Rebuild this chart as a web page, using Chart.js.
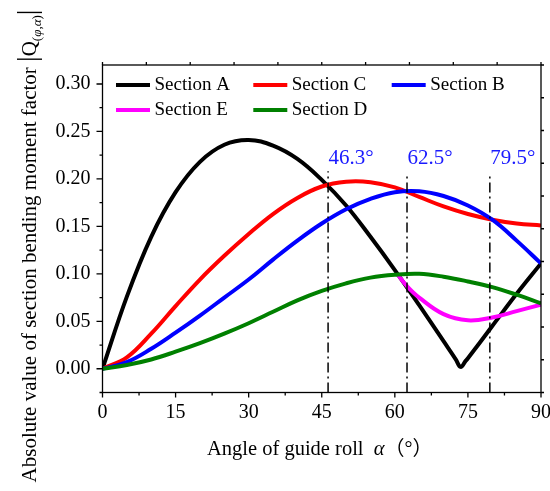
<!DOCTYPE html>
<html>
<head>
<meta charset="utf-8">
<script src="https://cdn.jsdelivr.net/npm/chart.js@4/dist/chart.umd.min.js"></script>
<style>
  html, body { margin: 0; padding: 0; background: #fff; }
  #wrap { width: 550px; height: 491px; position: relative; }
</style>
</head>
<body>
<div id="wrap"><canvas id="c" width="550" height="491"></canvas></div>
<script>
const SERIF = '"Liberation Serif", "Times New Roman", "Noto Sans CJK SC", serif';

// Guide-roll angle (degrees) at which each section curve is sampled
const anglesA = [0, 5, 10, 15, 20, 25, 30, 35, 40, 45, 50, 55, 60, 65, 70, 72.5, 73.5, 74.5, 75, 80, 85, 90];
const anglesBCD = [0, 5, 10, 15, 20, 25, 30, 35, 40, 45, 50, 55, 60, 65, 70, 75, 80, 85, 90];
const anglesE = [60.6, 62.5, 65, 70, 75, 80, 85, 90];

// |Q| for each section
const sectionA = [0, 0.076, 0.139, 0.186, 0.218, 0.236, 0.241, 0.235, 0.221, 0.199, 0.172, 0.139, 0.104, 0.067, 0.029, 0.010, 0.002, 0.008, 0.011, 0.045, 0.079, 0.111];
const sectionC = [0, 0.012, 0.037, 0.066, 0.094, 0.119, 0.142, 0.163, 0.180, 0.192, 0.197, 0.1965, 0.191, 0.181, 0.171, 0.163, 0.157, 0.153, 0.151];
const sectionB = [0, 0.007, 0.021, 0.038, 0.056, 0.075, 0.094, 0.115, 0.135, 0.153, 0.168, 0.179, 0.186, 0.187, 0.182, 0.172, 0.157, 0.135, 0.111];
const sectionE = [0.099, 0.087, 0.075, 0.0575, 0.051, 0.054, 0.0607, 0.0675];
const sectionD = [0, 0.004, 0.0098, 0.018, 0.027, 0.037, 0.048, 0.060, 0.072, 0.082, 0.090, 0.096, 0.099, 0.100, 0.097, 0.092, 0.086, 0.078, 0.069];

// Critical angles marked with dash-dot lines, and the height each line reaches
const markerAngles = [46.3, 62.5, 79.5];
const markerTops = [0.208, 0.203, 0.203];
const markerLabelLevel = 0.216;

// Axis ticks
const xTickValues = [0, 15, 30, 45, 60, 75, 90];
const xMinorValues = [7.5, 22.5, 37.5, 52.5, 67.5, 82.5];
const yTickValues = [0, 0.05, 0.10, 0.15, 0.20, 0.25, 0.30];
const yMinorValues = [-0.025, 0.025, 0.075, 0.125, 0.175, 0.225, 0.275];
const topTickValues = [0, 9, 18, 27, 36, 45, 54, 63, 72, 81, 90];
const rightTickValues = [-0.025, 0.0095, 0.044, 0.0785, 0.113, 0.1475, 0.182, 0.2165, 0.251, 0.2855, 0.32];
const Y_MIN = -0.025, Y_MAX = 0.32;

const pairs = (xs, ys) => xs.map((x, i) => ({ x, y: ys[i] }));

function curve(label, xs, ys, color, order) {
  return {
    label, data: pairs(xs, ys), borderColor: color, backgroundColor: color,
    borderWidth: 4, pointRadius: 0, tension: 0.4,
    borderJoinStyle: 'round', borderCapStyle: 'butt', order, inLegend: true
  };
}

const datasets = [
  curve('Section A', anglesA, sectionA, '#000000', 5),
  curve('Section C', anglesBCD, sectionC, '#ff0000', 4),
  curve('Section B', anglesBCD, sectionB, '#0000ff', 3),
  curve('Section E', anglesE, sectionE, '#ff00ff', 2),
  curve('Section D', anglesBCD, sectionD, '#008000', 1),
];
markerAngles.forEach((a, i) => {
  datasets.push({
    label: '', data: [{ x: a, y: Y_MIN }, { x: a, y: markerTops[i] }],
    borderColor: '#000', borderWidth: 1.5, borderDash: [10, 4, 2, 4],
    pointRadius: 0, tension: 0, order: 0, inLegend: false
  });
});

// Frame with outward ticks on all four sides
const framePlugin = {
  id: 'frame',
  afterDraw(chart) {
    const { ctx, chartArea: a, scales: { x, y } } = chart;
    ctx.save();
    ctx.strokeStyle = '#000';
    ctx.lineWidth = 1.3;
    ctx.strokeRect(a.left, a.top, a.right - a.left, a.bottom - a.top);
    ctx.beginPath();
    const seg = (x1, y1, x2, y2) => { ctx.moveTo(x1, y1); ctx.lineTo(x2, y2); };
    xTickValues.forEach(v => { const p = x.getPixelForValue(v); seg(p, a.bottom, p, a.bottom + 5); });
    xMinorValues.forEach(v => { const p = x.getPixelForValue(v); seg(p, a.bottom, p, a.bottom + 3); });
    yTickValues.forEach(v => { const p = y.getPixelForValue(v); seg(a.left, p, a.left - 6, p); });
    yMinorValues.forEach(v => { const p = y.getPixelForValue(v); seg(a.left, p, a.left - 3, p); });
    topTickValues.forEach(v => { const p = x.getPixelForValue(v); seg(p, a.top, p, a.top - 3); });
    rightTickValues.forEach(v => { const p = y.getPixelForValue(v); seg(a.right, p, a.right + 3, p); });
    ctx.stroke();
    ctx.restore();
  }
};

// Legend laid out in three aligned columns inside the plot
const legendPlugin = {
  id: 'gridLegend',
  afterDraw(chart) {
    const { ctx, chartArea: a } = chart;
    const colX = [13.5, 150.8, 289.2];
    const rowY = [20, 45];
    const items = chart.data.datasets.filter(d => d.inLegend);
    ctx.save();
    ctx.font = '19px ' + SERIF;
    ctx.textBaseline = 'middle';
    ctx.textAlign = 'left';
    items.forEach((d, i) => {
      const cx = a.left + colX[i % 3];
      const cy = a.top + rowY[Math.floor(i / 3)];
      ctx.strokeStyle = d.borderColor;
      ctx.lineWidth = 4;
      ctx.beginPath();
      ctx.moveTo(cx, cy);
      ctx.lineTo(cx + 34, cy);
      ctx.stroke();
      ctx.fillStyle = '#000';
      ctx.fillText(d.label, cx + 38.5, cy + 0.5);
    });
    ctx.restore();
  }
};

// Angle labels above the dash-dot lines
const markerLabelPlugin = {
  id: 'markerLabels',
  afterDatasetsDraw(chart) {
    const { ctx, scales: { x, y } } = chart;
    ctx.save();
    ctx.font = '21px ' + SERIF;
    ctx.fillStyle = '#1a1aff';
    ctx.textAlign = 'left';
    ctx.textBaseline = 'alphabetic';
    markerAngles.forEach(v => {
      ctx.fillText(v.toFixed(1) + '°', x.getPixelForValue(v) + 0.5, y.getPixelForValue(markerLabelLevel));
    });
    ctx.restore();
  }
};

// Axis titles, including the italic symbols and the subscript of Q
const titlePlugin = {
  id: 'axisTitles',
  afterDraw(chart) {
    const { ctx } = chart;
    ctx.save();
    ctx.fillStyle = '#000';
    ctx.textBaseline = 'alphabetic';
    ctx.textAlign = 'left';

    // x title
    const parts = [
      { t: 'Angle of guide roll  ', f: '20.5px ' + SERIF },
      { t: 'α', f: 'italic 20.5px ' + SERIF },
      { t: '（°）', f: '20px ' + SERIF }
    ];
    parts.forEach(p => { ctx.font = p.f; p.w = ctx.measureText(p.t).width; });
    let px = 207;
    parts.forEach(p => { ctx.font = p.f; ctx.fillText(p.t, px, 455); px += p.w; });

    // y title (rotated)
    const yParts = [
      { t: 'Absolute value of section bending moment factor ', f: '21px ' + SERIF, dy: 0 },
      { t: '|', f: '28px ' + SERIF, dy: 0 },
      { t: 'Q', f: '21px ' + SERIF, dy: 0 },
      { t: '(', f: '13px ' + SERIF, dy: 5 },
      { t: 'φ', f: 'italic 13px ' + SERIF, dy: 5 },
      { t: ',', f: '13px ' + SERIF, dy: 5 },
      { t: 'α', f: 'italic 13px ' + SERIF, dy: 5 },
      { t: ')', f: '13px ' + SERIF, dy: 5 },
      { t: '|', f: '28px ' + SERIF, dy: 0 }
    ];
    let total = 0;
    yParts.forEach(p => { ctx.font = p.f; p.w = ctx.measureText(p.t).width; total += p.w; });
    ctx.translate(36, 246 + total / 2);
    ctx.rotate(-Math.PI / 2);
    let u = 0;
    yParts.forEach(p => { ctx.font = p.f; ctx.fillText(p.t, u, p.dy); u += p.w; });
    ctx.restore();
  }
};

new Chart(document.getElementById('c'), {
  type: 'line',
  data: { datasets },
  options: {
    responsive: false,
    animation: false,
    devicePixelRatio: 1,
    layout: { padding: { top: 65, right: 9, left: 0, bottom: 0 } },
    plugins: { legend: { display: false }, tooltip: { enabled: false } },
    scales: {
      x: {
        type: 'linear', min: 0, max: 90,
        afterBuildTicks: s => { s.ticks = xTickValues.map(v => ({ value: v })); },
        afterFit: s => { s.height = 98.5; s.paddingLeft = 0; s.paddingRight = 0; },
        grid: { display: false, drawTicks: false },
        border: { display: false },
        ticks: { font: { family: SERIF, size: 20 }, color: '#000', padding: 8, maxRotation: 0, autoSkip: false, callback: v => String(v) }
      },
      y: {
        type: 'linear', min: Y_MIN, max: Y_MAX,
        afterBuildTicks: s => { s.ticks = yTickValues.map(v => ({ value: v })); },
        afterFit: s => { s.width = 102.5; },
        grid: { display: false, drawTicks: false },
        border: { display: false },
        ticks: { font: { family: SERIF, size: 20 }, color: '#000', padding: 12, autoSkip: false, callback: v => v.toFixed(2) }
      }
    }
  },
  plugins: [markerLabelPlugin, framePlugin, legendPlugin, titlePlugin]
});
</script>
</body>
</html>
